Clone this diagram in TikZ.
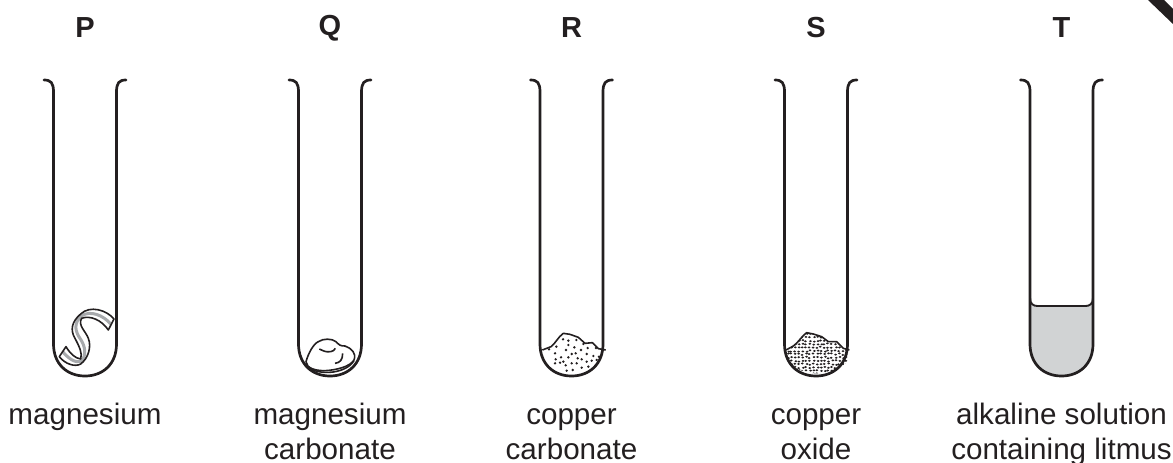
\documentclass[tikz,border=0pt]{standalone}
\usepackage{fontspec}
\setmainfont{Liberation Sans}
\usepackage{xcolor}
\definecolor{inkblack}{RGB}{35,31,32}
\definecolor{liquidgrey}{RGB}{209,211,212}
\definecolor{ribbongrey}{RGB}{167,169,172}
\newcommand{\tubepath}{(-41,80) .. controls (-34,80) and (-31.5,83) .. (-31.5,92) -- (-31.5,344) .. controls (-31.5,364) and (-18,376) .. (0,376) .. controls (18,376) and (31.5,364) .. (31.5,344) -- (31.5,92) .. controls (31.5,83) and (34,80) .. (41,80)}
\newcommand{\ribbonpath}{(222,87) .. controls (200,60) and (150,45) .. (122,72) .. controls (95,95) and (90,120) .. (105,145) .. controls (118,170) and (128,190) .. (122,207) .. controls (105,205) and (90,190) .. (78,170) -- (58,200) .. controls (75,222) and (105,232) .. (122,222) .. controls (145,205) and (155,170) .. (145,145) .. controls (138,125) and (112,105) .. (125,85) .. controls (150,75) and (185,90) .. (205,120) -- cycle}
\begin{document}
\begin{tikzpicture}[
  x=1pt, y=-1pt,
  tube/.style={draw=inkblack, line width=2.7pt, line cap=round},
  letter/.style={font=\fontsize{29}{35}\selectfont\bfseries, text=inkblack},
  caption/.style={align=center, anchor=north, text=inkblack, inner sep=0pt,
                  font=\fontsize{29.6}{35}\selectfont},
  solid line/.style={draw=inkblack, line width=1.6pt, line join=round}
]
\useasboundingbox[clip] (0,0) rectangle (1173,463);
% tubes and labels
\foreach \cx/\tag/\txt in {85/P/magnesium, 330/Q/magnesium\\carbonate, 571.5/R/copper\\carbonate,
                           816/S/copper\\oxide, 1061.5/T/alkaline solution\\containing litmus}{
  \node[letter] (\tag) at (\cx,28) {\tag};
  \node[caption] (lab\tag) at (\cx,401) {\rule{0pt}{23pt}\txt};
}
% T: liquid
\begin{scope}[shift={(1061.5pt,0pt)}]
  \fill[liquidgrey] (-31.5,298) -- (-31.5,344) .. controls (-31.5,364) and (-18,376) .. (0,376)
    .. controls (18,376) and (31.5,364) .. (31.5,344) -- (31.5,298) .. controls (31.5,304) and (28,306) .. (24,306)
    -- (-24,306) .. controls (-28,306) and (-31.5,304) .. (-31.5,298) -- cycle;
  \draw[solid line, line width=1.9pt] (-31.5,298) .. controls (-31.5,304) and (-28,306) .. (-24,306) -- (24,306)
    .. controls (28,306) and (31.5,304) .. (31.5,298);
\end{scope}
% P: ribbon
\begin{scope}[shift={(40pt,-290pt)}, x=0.3333pt, y=-0.3333pt]
  \fill[white] \ribbonpath;
  \draw[ribbongrey, line width=3pt] (213,103) .. controls (190,75) and (150,60) .. (124,78) .. controls (100,100) and (105,125) .. (122,148)
    .. controls (136,170) and (140,195) .. (124,214) .. controls (105,220) and (85,205) .. (68,185);
  \draw[solid line] \ribbonpath;
\end{scope}
% Q: lump
\begin{scope}[shift={(290pt,-320pt)}, x=0.3333pt, y=-0.3333pt]
  \draw[solid line] (48,125) .. controls (55,100) and (70,72) .. (85,65) .. controls (100,55) and (125,55) .. (138,65)
    .. controls (148,75) and (150,78) .. (165,78) .. controls (185,85) and (200,100) .. (192,120)
    .. controls (180,140) and (140,150) .. (105,152) .. controls (75,152) and (50,145) .. (48,125) -- cycle;
  \draw[solid line] (46,132) .. controls (60,155) and (100,160) .. (130,156) .. controls (155,152) and (180,142) .. (192,122);
  \draw[solid line] (88,87) .. controls (100,92) and (105,97) .. (122,95) .. controls (130,94) and (133,90) .. (136,85);
  \draw[solid line] (135,130) .. controls (150,128) and (158,120) .. (158,100);
\end{scope}
% R: powder
\begin{scope}[shift={(535pt,-320pt)}, x=0.3333pt, y=-0.3333pt]
  \draw[solid line] (22,90) -- (48,80) .. controls (60,72) and (70,50) .. (85,40) -- (105,43) -- (130,52) -- (150,70)
    -- (172,68) -- (190,86) -- (212,90);
  \foreach \dx/\dy in {84/58,100/62,124/60,145/72,100/75,158/84,183/84,64/80,93/90,118/82,
                       42/88,60/100,138/90,110/102,122/100,155/102,175/108,192/110,185/120,170/122,
                       62/118,78/112,100/112,128/115,140/118,60/130,75/128,92/136,110/130,155/125,
                       95/152,113/150,140/143,160/140,85/125,125/130}{
    \fill[inkblack] (\dx,\dy) circle (4);
  }
\end{scope}
% S: powder
\begin{scope}[shift={(780pt,-320pt)}, x=0.3333pt, y=-0.3333pt]
  \begin{scope}
    \clip (18,90) -- (40,78) .. controls (55,68) and (65,48) .. (80,38) -- (100,42) -- (125,50) -- (145,65) -- (170,65)
      -- (190,85) -- (208,90) -- (208,110) .. controls (200,140) and (150,162) .. (110,160)
      .. controls (60,160) and (20,135) .. (18,90) -- cycle;
    \pgfmathsetseed{11}
    \foreach \row in {0,...,12}{
      \foreach \col in {0,...,17}{
        \fill[inkblack] (10+\col*11+rnd*6,40+\row*10+rnd*5) ellipse (4.4 and 3.2);
      }
    }
  \end{scope}
  \draw[solid line] (18,90) -- (40,78) .. controls (55,68) and (65,48) .. (80,38) -- (100,42) -- (125,50) -- (145,65) -- (170,65)
    -- (190,85) -- (208,90);
\end{scope}
% tube outlines on top
\foreach \cx in {85,330,571.5,816,1061.5}{
  \draw[tube, shift={(\cx pt,0pt)}] \tubepath;
}
% corner mark
\fill[inkblack] (1148,0) -- (1173,24) -- (1173,9) -- (1164,0) -- cycle;
\end{tikzpicture}
\end{document}
